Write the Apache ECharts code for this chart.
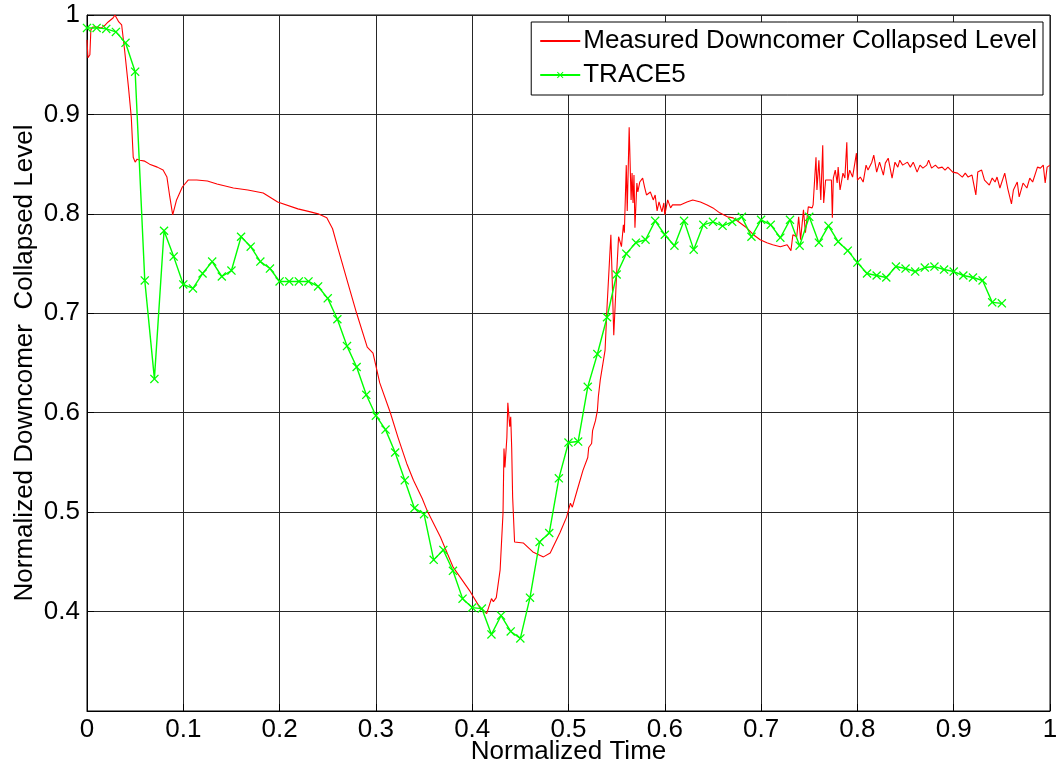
<!DOCTYPE html>
<html>
<head>
<meta charset="utf-8">
<title>Downcomer Collapsed Level</title>
<script src="https://cdn.jsdelivr.net/npm/echarts@6/dist/echarts.min.js"></script>
<style>
  html, body { margin: 0; padding: 0; background: #fff; }
  #chart { width: 1057px; height: 771px; }
</style>
</head>
<body>
<div id="chart"></div>
<script>
const measuredTime = [
  0.000, 0.001, 0.003, 0.004, 0.006, 0.010, 0.015, 0.019, 0.022, 0.024, 0.027, 0.029, 0.031, 0.033, 0.036,
  0.039, 0.043, 0.046, 0.048, 0.050, 0.052, 0.055, 0.060, 0.065, 0.073, 0.079, 0.083, 0.086, 0.089, 0.093,
  0.099, 0.105, 0.114, 0.125, 0.135, 0.152, 0.167, 0.183, 0.198, 0.219, 0.232, 0.240, 0.249, 0.255, 0.261,
  0.271, 0.280, 0.291, 0.297, 0.304, 0.315, 0.323, 0.332, 0.339, 0.348, 0.353, 0.367, 0.380, 0.398, 0.408,
  0.415, 0.417, 0.420, 0.422, 0.425, 0.429, 0.432, 0.433, 0.434, 0.436, 0.437, 0.439, 0.440, 0.441, 0.442,
  0.444, 0.453, 0.463, 0.474, 0.481, 0.491, 0.498, 0.502, 0.504, 0.509, 0.515, 0.520, 0.521, 0.524, 0.525,
  0.528, 0.530, 0.531, 0.533, 0.538, 0.540, 0.544, 0.545, 0.547, 0.550, 0.552, 0.555, 0.557, 0.558, 0.560,
  0.561, 0.563, 0.565, 0.566, 0.567, 0.568, 0.569, 0.571, 0.572, 0.574, 0.577, 0.579, 0.581, 0.585, 0.588,
  0.590, 0.592, 0.594, 0.597, 0.599, 0.600, 0.603, 0.606, 0.608, 0.616, 0.623, 0.629, 0.637, 0.644, 0.650,
  0.657, 0.665, 0.671, 0.678, 0.685, 0.692, 0.699, 0.706, 0.712, 0.720, 0.727, 0.731, 0.733, 0.737, 0.739,
  0.741, 0.744, 0.746, 0.749, 0.753, 0.754, 0.757, 0.758, 0.760, 0.762, 0.764, 0.765, 0.767, 0.769, 0.773,
  0.774, 0.775, 0.777, 0.779, 0.780, 0.782, 0.785, 0.787, 0.789, 0.790, 0.792, 0.795, 0.799, 0.800, 0.803,
  0.806, 0.809, 0.811, 0.815, 0.817, 0.820, 0.823, 0.827, 0.829, 0.832, 0.836, 0.839, 0.842, 0.844, 0.847,
  0.852, 0.855, 0.858, 0.862, 0.865, 0.868, 0.872, 0.874, 0.877, 0.881, 0.884, 0.888, 0.891, 0.894, 0.899,
  0.904, 0.909, 0.912, 0.915, 0.919, 0.923, 0.925, 0.929, 0.932, 0.937, 0.940, 0.943, 0.945, 0.948, 0.953,
  0.956, 0.960, 0.962, 0.966, 0.968, 0.972, 0.976, 0.979, 0.982, 0.987, 0.990, 0.993, 0.995, 0.997, 1.000
];
const measuredLevel = [
  0.975, 0.957, 0.960, 0.985, 0.988, 0.988, 0.987, 0.990, 0.993, 0.995, 0.997, 1.000, 0.998, 0.993, 0.990,
  0.965, 0.928, 0.897, 0.857, 0.852, 0.855, 0.854, 0.853, 0.850, 0.847, 0.844, 0.837, 0.817, 0.799, 0.814,
  0.827, 0.834, 0.834, 0.833, 0.830, 0.826, 0.824, 0.821, 0.812, 0.805, 0.802, 0.800, 0.796, 0.785, 0.764,
  0.730, 0.700, 0.666, 0.660, 0.630, 0.600, 0.575, 0.549, 0.532, 0.514, 0.502, 0.475, 0.445, 0.420, 0.404,
  0.398, 0.396, 0.413, 0.410, 0.414, 0.442, 0.499, 0.564, 0.545, 0.575, 0.610, 0.586, 0.596, 0.565, 0.515,
  0.470, 0.469, 0.460, 0.455, 0.459, 0.479, 0.495, 0.509, 0.505, 0.522, 0.542, 0.555, 0.565, 0.569, 0.582,
  0.592, 0.602, 0.616, 0.633, 0.663, 0.706, 0.779, 0.747, 0.678, 0.740, 0.777, 0.767, 0.789, 0.781, 0.849,
  0.803, 0.887, 0.814, 0.841, 0.811, 0.839, 0.786, 0.831, 0.822, 0.832, 0.836, 0.827, 0.819, 0.822, 0.814,
  0.819, 0.803, 0.812, 0.802, 0.811, 0.799, 0.814, 0.806, 0.809, 0.809, 0.812, 0.814, 0.812, 0.809, 0.806,
  0.801, 0.797, 0.796, 0.791, 0.786, 0.779, 0.774, 0.771, 0.769, 0.767, 0.769, 0.763, 0.779, 0.777, 0.797,
  0.774, 0.804, 0.781, 0.807, 0.806, 0.809, 0.857, 0.824, 0.854, 0.814, 0.869, 0.811, 0.834, 0.836, 0.834,
  0.796, 0.836, 0.844, 0.831, 0.847, 0.824, 0.841, 0.836, 0.872, 0.834, 0.844, 0.837, 0.861, 0.834, 0.837,
  0.832, 0.849, 0.844, 0.852, 0.859, 0.842, 0.852, 0.839, 0.851, 0.856, 0.836, 0.852, 0.847, 0.854, 0.849,
  0.852, 0.847, 0.852, 0.842, 0.849, 0.846, 0.849, 0.854, 0.846, 0.849, 0.846, 0.847, 0.844, 0.847, 0.842,
  0.841, 0.837, 0.841, 0.837, 0.839, 0.819, 0.842, 0.844, 0.834, 0.829, 0.836, 0.832, 0.837, 0.826, 0.841,
  0.826, 0.810, 0.824, 0.832, 0.817, 0.831, 0.826, 0.836, 0.832, 0.847, 0.846, 0.849, 0.831, 0.847, 0.849
];

// TRACE5 result (green, x markers)
const traceTime = [
  0.00, 0.01, 0.02, 0.03, 0.04, 0.05, 0.06, 0.07, 0.08, 0.09, 0.10, 0.11, 0.12, 0.13, 0.14, 0.15,
  0.16, 0.17, 0.18, 0.19, 0.20, 0.21, 0.22, 0.23, 0.24, 0.25, 0.26, 0.27, 0.28, 0.29, 0.30, 0.31,
  0.32, 0.33, 0.34, 0.35, 0.36, 0.37, 0.38, 0.39, 0.40, 0.41, 0.42, 0.43, 0.44, 0.45, 0.46, 0.47,
  0.48, 0.49, 0.50, 0.51, 0.52, 0.53, 0.54, 0.55, 0.56, 0.57, 0.58, 0.59, 0.60, 0.61, 0.62, 0.63,
  0.64, 0.65, 0.66, 0.67, 0.68, 0.69, 0.70, 0.71, 0.72, 0.73, 0.74, 0.75, 0.76, 0.77, 0.78, 0.79,
  0.80, 0.81, 0.82, 0.83, 0.84, 0.85, 0.86, 0.87, 0.88, 0.89, 0.90, 0.91, 0.92, 0.93, 0.94, 0.95
];
const traceLevel = [
  0.987, 0.987, 0.986, 0.983, 0.972, 0.943, 0.733, 0.634, 0.783, 0.757, 0.729, 0.725, 0.740, 0.752, 0.737, 0.743,
  0.777, 0.767, 0.752, 0.745, 0.732, 0.732, 0.732, 0.732, 0.727, 0.715, 0.694, 0.667, 0.646, 0.618, 0.597, 0.583,
  0.560, 0.532, 0.504, 0.498, 0.452, 0.462, 0.441, 0.413, 0.404, 0.403, 0.377, 0.396, 0.380, 0.373, 0.414, 0.470,
  0.479, 0.534, 0.570, 0.571, 0.626, 0.659, 0.696, 0.739, 0.760, 0.771, 0.774, 0.793, 0.779, 0.768, 0.793, 0.764,
  0.789, 0.792, 0.788, 0.792, 0.797, 0.777, 0.794, 0.789, 0.776, 0.794, 0.768, 0.797, 0.771, 0.788, 0.772, 0.763,
  0.751, 0.740, 0.738, 0.736, 0.747, 0.745, 0.742, 0.746, 0.747, 0.744, 0.742, 0.738, 0.736, 0.733, 0.711, 0.710
];

const seriesNames = ['Measured Downcomer Collapsed Level', 'TRACE5'];
const xAxisTitle = 'Normalized Time';
const yAxisTitle = 'Normalized Downcomer  Collapsed Level';

const FONT = 'Liberation Sans';
const FS = 26;
const crossMark = 'path://M0,1L1,0L5,4L9,0L10,1L6,5L10,9L9,10L5,6L1,10L0,9L4,5Z';

const chart = echarts.init(document.getElementById('chart'));

chart.setOption({
  backgroundColor: '#fff',
  animation: false,
  textStyle: { fontFamily: FONT },
  grid: {
    left: 87, right: 7, top: 15, bottom: 60,
    outerBoundsMode: 'none',
    containLabel: false,
    show: true, borderColor: '#000', borderWidth: 1, backgroundColor: '#fff'
  },
  legend: {
    orient: 'vertical',
    right: 14, top: 22,
    backgroundColor: '#fff',
    borderColor: '#000', borderWidth: 1,
    padding: [6, 6, 7, 8],
    itemGap: 8,
    itemWidth: 40, itemHeight: 8,
    textStyle: { fontFamily: FONT, fontSize: FS, color: '#000', padding: [0, 0, 0, -2] },
    data: seriesNames
  },
  xAxis: {
    type: 'value',
    min: 0, max: 1, interval: 0.1,
    name: xAxisTitle,
    nameLocation: 'middle', nameGap: 28,
    nameMoveOverlap: false,
    nameTextStyle: { fontFamily: FONT, fontSize: FS, color: '#000' },
    axisLine: { show: true, lineStyle: { color: '#000', width: 1 } },
    axisTick: { show: true, inside: true, length: 7, lineStyle: { color: '#000' } },
    axisLabel: { fontFamily: FONT, fontSize: FS, color: '#000', margin: 6 },
    splitLine: { show: true, lineStyle: { color: '#262626', width: 1 } }
  },
  yAxis: {
    type: 'value',
    min: 0.3, max: 1, interval: 0.1,
    name: yAxisTitle,
    nameLocation: 'middle', nameGap: 49,
    nameMoveOverlap: false,
    nameTextStyle: { fontFamily: FONT, fontSize: FS, color: '#000' },
    axisLine: { show: true, lineStyle: { color: '#000', width: 1 } },
    axisTick: { show: true, inside: true, length: 7, lineStyle: { color: '#000' } },
    axisLabel: {
      fontFamily: FONT, fontSize: FS, color: '#000', margin: 7,
      formatter: v => (v < 0.35 ? '' : String(+v.toFixed(1)))
    },
    splitLine: { show: true, lineStyle: { color: '#262626', width: 1 } }
  },
  series: [
    {
      name: seriesNames[0],
      type: 'line',
      data: measuredTime.map((t, i) => [t, measuredLevel[i]]),
      showSymbol: false,
      symbol: 'none',
      lineStyle: { color: '#ff0000', width: 1.1 },
      itemStyle: { color: 'rgba(255,0,0,0)' },
      z: 3
    },
    {
      name: seriesNames[1],
      type: 'line',
      data: traceTime.map((t, i) => [t, traceLevel[i]]),
      symbol: crossMark,
      symbolSize: 9,
      showAllSymbol: true,
      lineStyle: { color: '#00ff00', width: 1.4 },
      itemStyle: { color: '#00ff00' },
      z: 4
    }
  ]
});
</script>
</body>
</html>
